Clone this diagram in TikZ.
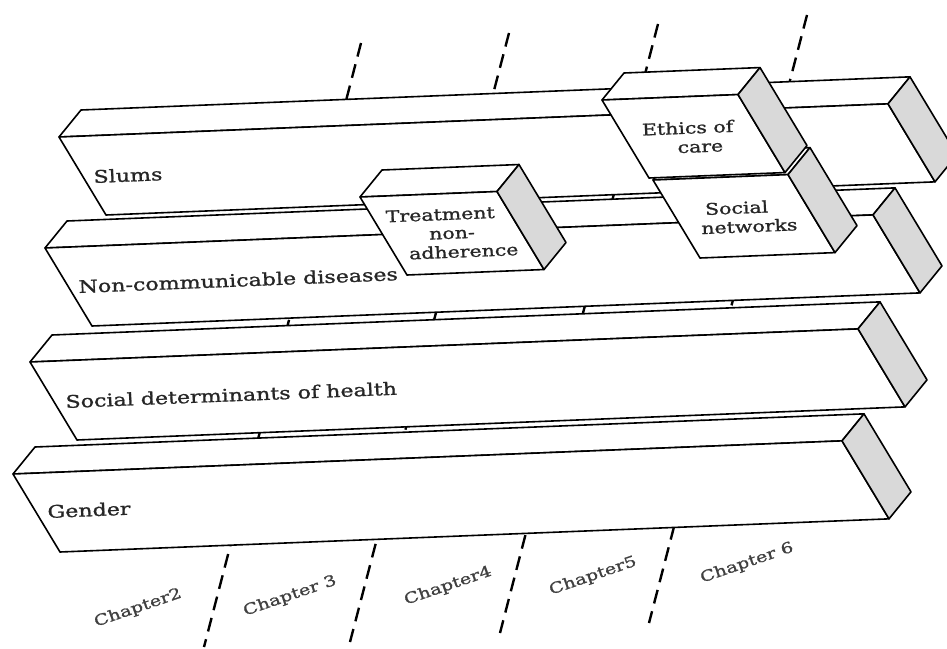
\documentclass[tikz,border=0pt]{standalone}
\usepackage{fontspec}
\setmainfont{DejaVu Serif}
\newfontfamily\themefont[FakeStretch=1.28,FakeBold=1.2]{DejaVu Serif}
\usetikzlibrary{calc}

% one block: name, front top left corner, length
\newcommand{\drawslab}[4]{%
  \coordinate (#1) at (#2,#3);
  \coordinate (#1-r) at ($(#1)+(#4,-0.04*#4)$);
  \draw[face] (#1) -- ++(22,-27) -- ($(#1-r)+(22,-27)$) -- (#1-r) -- cycle;
  \draw[face] (#1) -- (#1-r) -- ++(47,78) -- ($(#1)+(47,78)$) -- cycle;
  \draw[side] (#1-r) -- ++(22,-27) -- ++(47,78) -- ($(#1-r)+(47,78)$) -- cycle;
}

\begin{document}
\begin{tikzpicture}[x=1pt,y=-1pt,line width=1.6pt,line join=round,
face/.style={fill=white,draw=black},
side/.style={fill=gray!30,draw=black},
chapline/.style={line width=2.4pt,dash pattern=on 14pt off 8pt},
slablabel/.style={anchor=base west,rotate=2.3,inner sep=0pt,text=black!85,font=\themefont\fontsize{17.3}{19}\selectfont},
boxlabel/.style={align=center,rotate=2.3,inner sep=0pt,text=black!85,font=\themefont\fontsize{16}{19}\selectfont},
chaplabel/.style={rotate=19,inner sep=0pt,text=black!75,font=\themefont\fontsize{15}{17}\selectfont}]
\useasboundingbox (0,0) rectangle (947,648);

% chapter boundaries
\coordinate (c1a) at (361,43);  \coordinate (c1b) at (204,647);
\coordinate (c2a) at (509,33);  \coordinate (c2b) at (350,642);
\coordinate (c3a) at (658,24);  \coordinate (c3b) at (500,633);
\coordinate (c4a) at (807,15);  \coordinate (c4b) at (649,623);
\draw[chapline] (c1a) -- (c1b);
\draw[chapline] (c2a) -- (c2b);
\draw[chapline] (c3a) -- (c3b);
\draw[chapline] (c4a) -- (c4b);

% themes
\drawslab{slums}{59}{137}{829}
\drawslab{ncd}{45}{248}{828}
\drawslab{sdh}{30}{362}{828}
\drawslab{gender}{13}{474}{829}

% findings
\drawslab{treat}{360}{197}{137}
\drawslab{social}{653}{180}{135}
\drawslab{ethics}{602}{100}{136}

\node[slablabel] (slums-text) at ($(slums)+(34,46)$) {Slums};
\node[slablabel] (ncd-text) at ($(ncd)+(33,45)$) {Non-communicable diseases};
\node[slablabel] (sdh-text) at ($(sdh)+(35,46)$) {Social determinants of health};
\node[slablabel] (gender-text) at ($(gender)+(34,44)$) {Gender};

\node[boxlabel] (treat-text) at ($(treat)+(92,36)$) {Treatment\hspace*{22pt}\\non-\\\hspace*{22pt}adherence};
\node[boxlabel] (social-text) at ($(social)+(90,37)$) {Social\hspace*{12pt}\\\hspace*{12pt}networks};
\node[boxlabel] (ethics-text) at ($(ethics)+(92,37)$) {Ethics of\hspace*{12pt}\\\hspace*{12pt}care};

\node[chaplabel] (ch2) at (138,608) {Chapter2};
\node[chaplabel] (ch3) at (290,596) {Chapter 3};
\node[chaplabel] (ch4) at (448,586) {Chapter4};
\node[chaplabel] (ch5) at (593,576) {Chapter5};
\node[chaplabel] (ch6) at (747,563) {Chapter 6};
\end{tikzpicture}
\end{document}
